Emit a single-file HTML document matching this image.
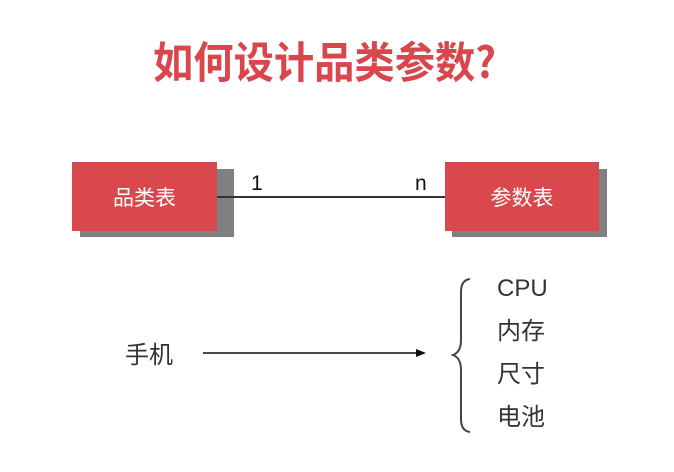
<!DOCTYPE html>
<html><head><meta charset="utf-8"><style>
html,body{margin:0;padding:0;background:#fff;}
</style></head><body>
<svg width="674" height="472" viewBox="0 0 674 472" xmlns="http://www.w3.org/2000/svg" style="display:block">
<text x="153" y="78" font-family="'Noto Sans CJK SC', sans-serif" font-weight="bold" font-size="43" fill="#d9464c" textLength="343" lengthAdjust="spacingAndGlyphs">如何设计品类参数?</text>
<rect x="80" y="169" width="154" height="68" fill="#808080"/>
<rect x="72" y="162" width="145" height="69" fill="#d9484d"/>
<rect x="452" y="169" width="155" height="68" fill="#808080"/>
<rect x="445" y="162" width="154" height="69" fill="#d9484d"/>
<text x="144.5" y="205" text-anchor="middle" font-family="'Noto Sans CJK SC', sans-serif" font-size="21" fill="#fff">品类表</text>
<text x="522" y="205" text-anchor="middle" font-family="'Noto Sans CJK SC', sans-serif" font-size="21" fill="#fff">参数表</text>
<line x1="217" y1="197" x2="445" y2="197" stroke="#333" stroke-width="2"/>
<text x="251" y="190" font-family="'Liberation Sans', sans-serif" font-size="21" fill="#111">1</text>
<text x="415" y="190" font-family="'Liberation Sans', sans-serif" font-size="21" fill="#111">n</text>
<text x="125" y="363" font-family="'Noto Sans CJK SC', sans-serif" font-size="24" fill="#333">手机</text>
<line x1="203" y1="353" x2="418" y2="353" stroke="#111" stroke-width="1.5"/>
<polygon points="426,353 416,349 416,357" fill="#111"/>
<path d="M470,279 Q461,280 461,292 L461,340 Q461,352 453,355 Q461,358 461,370 L461,419 Q461,431 470,432" fill="none" stroke="#444" stroke-width="2"/>
<g font-family="'Liberation Sans','Noto Sans CJK SC', sans-serif" font-size="24" fill="#333">
<text x="497" y="296">CPU</text>
<text x="497" y="339">内存</text>
<text x="497" y="382">尺寸</text>
<text x="497" y="425">电池</text>
</g>
</svg>
</body></html>
